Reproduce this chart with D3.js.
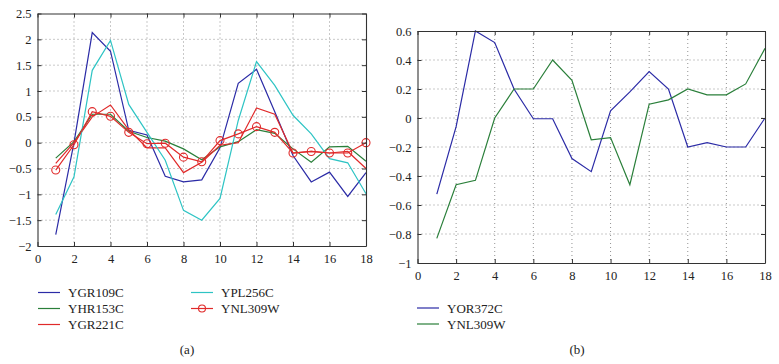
<!DOCTYPE html>
<html><head><meta charset="utf-8">
<script src="https://cdn.jsdelivr.net/npm/d3@7"></script>
<style>body{margin:0;background:#fff}svg{display:block}text{font-family:"Liberation Serif",serif;fill:#222}</style>
</head><body>
<svg id="c" width="779" height="364"></svg>
<script>
const xs = d3.range(1, 19);
// Panel (a)
const YGR109C = [-1.78, 0.0, 2.13, 1.77, 0.24, 0.15, -0.65, -0.76, -0.72, -0.1, 1.15, 1.42, 0.6, -0.25, -0.76, -0.57, -1.04, -0.58];
const YHR153C = [-0.3, 0.02, 0.55, 0.55, 0.22, 0.1, 0.03, -0.12, -0.33, -0.08, 0.02, 0.25, 0.18, -0.12, -0.38, -0.08, -0.07, -0.36];
const YGR221C = [-0.4, 0.0, 0.5, 0.73, 0.25, -0.1, -0.1, -0.58, -0.38, -0.05, 0.0, 0.67, 0.55, -0.2, -0.17, -0.2, -0.17, -0.5];
const YPL256C = [-1.39, -0.66, 1.4, 1.98, 0.74, 0.2, -0.34, -1.31, -1.5, -1.08, 0.43, 1.57, 1.11, 0.53, 0.17, -0.31, -0.39, -0.99];
const YNL309W_a = [-0.53, -0.04, 0.6, 0.51, 0.2, -0.02, -0.01, -0.28, -0.37, 0.04, 0.17, 0.31, 0.2, -0.2, -0.17, -0.2, -0.2, 0.0];
// Panel (b)
const YOR372C = [-0.525, -0.06, 0.6, 0.52, 0.2, -0.005, -0.005, -0.28, -0.37, 0.05, 0.18, 0.32, 0.2, -0.2, -0.17, -0.2, -0.2, 0.0];
const YNL309W_b = [-0.83, -0.46, -0.43, 0.0, 0.2, 0.2, 0.4, 0.26, -0.15, -0.135, -0.46, 0.095, 0.125, 0.2, 0.16, 0.16, 0.235, 0.48];

const xTicks = d3.range(0, 19, 2);
const yTicksA = [-2, -1.5, -1, -0.5, 0, 0.5, 1, 1.5, 2, 2.5];
const yTicksB = [-1, -0.8, -0.6, -0.4, -0.2, 0, 0.2, 0.4, 0.6];

const C = {blue:"#2b2ba6", green:"#2a7f3a", red:"#e02a2a", cyan:"#2ec4c4"};
const FONT = '"Liberation Serif", serif';

const svg = d3.select("#c");

function panel(opt){
  const g = svg.append("g");
  const x = d3.scaleLinear().domain([0,18]).range([opt.x0, opt.x1]);
  const y = d3.scaleLinear().domain(opt.yDom).range([opt.y1, opt.y0]);
  // grid
  g.append("g").selectAll("line").data(xTicks.slice(1,-1)).join("line")
    .attr("x1", d=>x(d)).attr("x2", d=>x(d)).attr("y1", opt.y0).attr("y2", opt.y1)
    .attr("stroke","#777").attr("stroke-width",0.8).attr("stroke-dasharray","1,3");
  g.append("g").selectAll("line").data(opt.yTicks.slice(1,-1)).join("line")
    .attr("y1", d=>y(d)).attr("y2", d=>y(d)).attr("x1", opt.x0).attr("x2", opt.x1)
    .attr("stroke","#777").attr("stroke-width",0.8).attr("stroke-dasharray","1,3");
  // lines
  const line = d3.line().x((d,i)=>x(xs[i])).y(d=>y(d));
  opt.series.forEach(s=>{
    g.append("path").attr("d", line(s.v)).attr("fill","none").attr("stroke", s.c).attr("stroke-width",1.2);
    if(s.m){
      g.append("g").selectAll("circle").data(s.v).join("circle")
        .attr("cx",(d,i)=>x(xs[i])).attr("cy",d=>y(d)).attr("r",4)
        .attr("fill","none").attr("stroke",s.c).attr("stroke-width",1.1);
    }
  });
  // axes
  const fmt = d=> d3.format("")(d).replace("-", "\u2212");
  const ax = g.append("g").attr("transform",`translate(0,${opt.y1})`)
    .call(d3.axisBottom(x).tickValues(xTicks).tickSizeInner(-4).tickSizeOuter(0).tickPadding(8).tickFormat(d=>d));
  const axT = g.append("g").attr("transform",`translate(0,${opt.y0})`)
    .call(d3.axisTop(x).tickValues(xTicks).tickSizeInner(-4).tickSizeOuter(0).tickFormat(""));
  const ay = g.append("g").attr("transform",`translate(${opt.x0},0)`)
    .call(d3.axisLeft(y).tickValues(opt.yTicks).tickSizeInner(-4).tickSizeOuter(0).tickPadding(6).tickFormat(fmt));
  const ayR = g.append("g").attr("transform",`translate(${opt.x1},0)`)
    .call(d3.axisRight(y).tickValues(opt.yTicks).tickSizeInner(-4).tickSizeOuter(0).tickFormat(""));
  [ax,axT,ay,ayR].forEach(a=>{
    a.attr("font-family", FONT);
    a.select(".domain").attr("stroke","#333").attr("stroke-width",1.1);
    a.selectAll(".tick line").attr("stroke","#333");
    a.selectAll("text").style("font-family",FONT).style("font-size","12.5px").attr("fill","#222");
  });
  // legend
  opt.legend.forEach(l=>{
    g.append("line").attr("x1",l.x).attr("x2",l.x+22).attr("y1",l.y).attr("y2",l.y).attr("stroke",l.c).attr("stroke-width",1.2);
    if(l.m) g.append("circle").attr("cx",l.x+11).attr("cy",l.y).attr("r",3.5).attr("fill","none").attr("stroke",l.c).attr("stroke-width",1.1);
    g.append("text").attr("x",l.x+30).attr("y",l.y+4.5).style("font-family",FONT).style("font-size","13px").text(l.t);
  });
  g.append("text").attr("x",opt.labX).attr("y",354).attr("text-anchor","middle").style("font-family",FONT).style("font-size","13px").text(opt.lab);
}

panel({x0:37.5, x1:366, y0:13.5, y1:246, yDom:[-2,2.5], yTicks:yTicksA,
  series:[{v:YGR109C,c:C.blue},{v:YHR153C,c:C.green},{v:YGR221C,c:C.red},{v:YPL256C,c:C.cyan},{v:YNL309W_a,c:C.red,m:true}],
  legend:[{x:38,y:292.5,c:C.blue,t:"YGR109C"},{x:38,y:308.5,c:C.green,t:"YHR153C"},{x:38,y:324.5,c:C.red,t:"YGR221C"},
          {x:191,y:292.5,c:C.cyan,t:"YPL256C"},{x:191,y:308.5,c:C.red,t:"YNL309W",m:true}],
  lab:"(a)", labX:187});

panel({x0:417.5, x1:765, y0:31, y1:263, yDom:[-1,0.6], yTicks:yTicksB,
  series:[{v:YOR372C,c:C.blue},{v:YNL309W_b,c:C.green}],
  legend:[{x:417,y:308,c:C.blue,t:"YOR372C"},{x:417,y:324,c:C.green,t:"YNL309W"}],
  lab:"(b)", labX:577});
</script>
</body></html>
